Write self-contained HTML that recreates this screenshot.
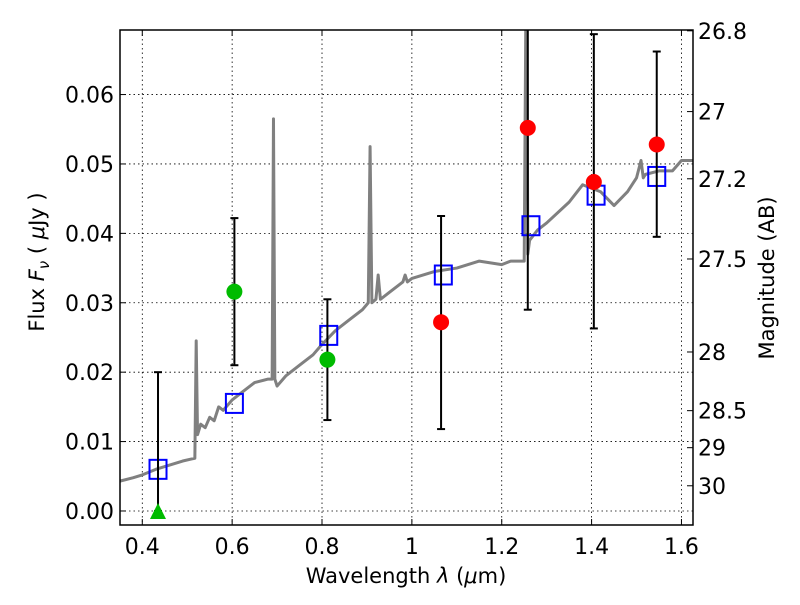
<!DOCTYPE html>
<html><head><meta charset="utf-8"><style>
body{margin:0;background:#fff;width:800px;height:600px;overflow:hidden}
svg text{font-family:"DejaVu Sans","Liberation Sans",sans-serif;fill:#000}
</style></head><body>
<svg id="chart" width="800" height="600" xmlns="http://www.w3.org/2000/svg"></svg>
<script>
const xTicks=[0.4,0.6,0.8,1.0,1.2,1.4,1.6];
const xTickLabels=["0.4","0.6","0.8","1","1.2","1.4","1.6"];
const yTicks=[0,0.01,0.02,0.03,0.04,0.05,0.06];
const yTickLabels=["0.00","0.01","0.02","0.03","0.04","0.05","0.06"];
const magTicks=[26.8,27,27.2,27.5,28,28.5,29,30];
const magTickLabels=["26.8","27","27.2","27.5","28","28.5","29","30"];
const specWave=[0.35,0.38,0.40,0.43,0.46,0.49,0.51,0.517,0.52,0.523,0.53,0.54,0.55,0.56,0.57,0.58,0.6,0.62,0.65,0.68,0.689,0.692,0.695,0.70,0.72,0.75,0.78,0.80,0.83,0.86,0.89,0.903,0.907,0.911,0.92,0.925,0.93,0.95,0.98,0.985,0.99,1.0,1.05,1.1,1.15,1.2,1.22,1.25,1.254,1.256,1.258,1.262,1.28,1.3,1.35,1.38,1.42,1.45,1.48,1.5,1.51,1.515,1.52,1.55,1.58,1.6,1.625];
const specFlux=[0.0043,0.0048,0.0052,0.006,0.0066,0.0072,0.0075,0.0076,0.0245,0.011,0.0125,0.012,0.0135,0.013,0.015,0.0145,0.016,0.017,0.0185,0.019,0.019,0.0565,0.019,0.018,0.0195,0.021,0.0225,0.024,0.026,0.0275,0.029,0.030,0.0525,0.030,0.0305,0.034,0.0305,0.0315,0.033,0.034,0.033,0.0335,0.0345,0.035,0.036,0.0355,0.036,0.036,0.075,0.075,0.037,0.039,0.0405,0.0415,0.0445,0.047,0.046,0.044,0.046,0.048,0.0505,0.048,0.0485,0.049,0.049,0.0505,0.0505];
const modelWave=[0.435,0.605,0.815,1.07,1.265,1.41,1.545];
const modelFlux=[0.006,0.0155,0.0253,0.034,0.0411,0.0455,0.0482];
const redWave=[1.065,1.258,1.405,1.545];
const redFlux=[0.0272,0.0552,0.0474,0.0528];
const redLo=[0.0118,0.029,0.0263,0.0395];
const redHi=[0.0425,0.075,0.0687,0.0662];
const greenWave=[0.605,0.812];
const greenFlux=[0.0316,0.0218];
const greenLo=[0.021,0.0131];
const greenHi=[0.0422,0.0305];
const limWave=[0.435];
const limFlux=[0];
const limHi=[0.020];

const L=120,R=693,T=30,B=525;
const x0=0.3504,x1=1.6257,y0=-0.00202,y1=0.0693;
const X=v=>L+(v-x0)/(x1-x0)*(R-L);
const Y=v=>B-(v-y0)/(y1-y0)*(B-T);
const M=m=>Y(Math.pow(10,(23.9-m)/2.5));
const svg=document.getElementById('chart');
const NS='http://www.w3.org/2000/svg';
function el(tag,attrs,parent){const e=document.createElementNS(NS,tag);for(const k in attrs)e.setAttribute(k,attrs[k]);(parent||svg).appendChild(e);return e;}
function clampY(v){return Math.max(T,Math.min(B,Y(v)));}

const defs=el('defs',{});const cp=el('clipPath',{id:'clip'},defs);el('rect',{x:L,y:T,width:R-L,height:B-T},cp);
const plot=el('g',{'clip-path':'url(#clip)'});

xTicks.forEach(v=>{const g=el('line',{x1:X(v),x2:X(v),y1:T,y2:B,stroke:'#000','stroke-width':0.8,'stroke-dasharray':'1.5,3'},plot);
});
yTicks.forEach(v=>{const g=el('line',{x1:L,x2:R,y1:Y(v),y2:Y(v),stroke:'#000','stroke-width':0.8,'stroke-dasharray':'1.5,3'},plot);
});

const sp=el('polyline',{points:specWave.map((w,i)=>X(w)+','+Y(specFlux[i])).join(' '),fill:'none',stroke:'#808080','stroke-width':3,'stroke-linejoin':'round'},plot);


modelWave.forEach((w,i)=>{const r=el('rect',{x:X(w)-8.5,y:Y(modelFlux[i])-9.5,width:17,height:19,fill:'none',stroke:'#0000ff','stroke-width':2},plot);
});

function errbar(w,lo,hi,name){const g=el('g',{},plot);

const x=X(w);el('line',{x1:x,x2:x,y1:clampY(lo),y2:clampY(hi),stroke:'#000','stroke-width':2},g);
[lo,hi].forEach(v=>{if(Y(v)>=T&&Y(v)<=B)el('line',{x1:x-4,x2:x+4,y1:Y(v),y2:Y(v),stroke:'#000','stroke-width':2},g);});}

redWave.forEach((w,i)=>errbar(w,redLo[i],redHi[i],'red-errorbar'));
greenWave.forEach((w,i)=>errbar(w,greenLo[i],greenHi[i],'green-errorbar'));
limWave.forEach((w,i)=>errbar(w,limFlux[i],limHi[i],'limit-errorbar'));

redWave.forEach((w,i)=>{const c=el('circle',{cx:X(w),cy:Y(redFlux[i]),r:8,fill:'#ff0000'},plot);
});
greenWave.forEach((w,i)=>{const c=el('circle',{cx:X(w),cy:Y(greenFlux[i]),r:8,fill:'#00bb00'},plot);
});
limWave.forEach((w,i)=>{const x=X(w),y=Y(limFlux[i]);const p=el('polygon',{points:`${x},${y-8} ${x-8},${y+8} ${x+8},${y+8}`,fill:'#00bb00'},plot);
});

const fr=el('rect',{x:L,y:T,width:R-L,height:B-T,fill:'none',stroke:'#000','stroke-width':1.5});


xTicks.forEach((v,i)=>{const x=X(v);
el('line',{x1:x,x2:x,y1:B,y2:B-6,stroke:'#000'});el('line',{x1:x,x2:x,y1:T,y2:T+6,stroke:'#000'});
const t=el('text',{x:x,y:B+29,'text-anchor':'middle','font-size':22});t.textContent=xTickLabels[i];
});
yTicks.forEach((v,i)=>{const y=Y(v);
el('line',{x1:L,x2:L+6,y1:y,y2:y,stroke:'#000'});
const t=el('text',{x:L-6,y:y+8,'text-anchor':'end','font-size':22});t.textContent=yTickLabels[i];
});
magTicks.forEach((m,i)=>{const y=M(m);
el('line',{x1:R,x2:R-6,y1:y,y2:y,stroke:'#000'});
const t=el('text',{x:R+5,y:y+8,'font-size':22});t.textContent=magTickLabels[i];
});
</script>
<svg style="position:absolute;left:0;top:0" width="800" height="600" xmlns="http://www.w3.org/2000/svg">
<text x="406" y="583" text-anchor="middle" font-size="21">Wavelength  <tspan font-style="italic">λ</tspan> (<tspan font-style="italic">μ</tspan>m)</text>
<text transform="translate(44,262) rotate(-90)" text-anchor="middle" font-size="21">Flux  <tspan font-style="italic">F</tspan><tspan font-style="italic" font-size="15" dy="5">ν</tspan><tspan dy="-5">  (  </tspan><tspan font-style="italic">μ</tspan>Jy )</text>
<text transform="translate(774,278) rotate(-90)" text-anchor="middle" font-size="21">Magnitude (AB)</text>
</svg>
</body></html>
